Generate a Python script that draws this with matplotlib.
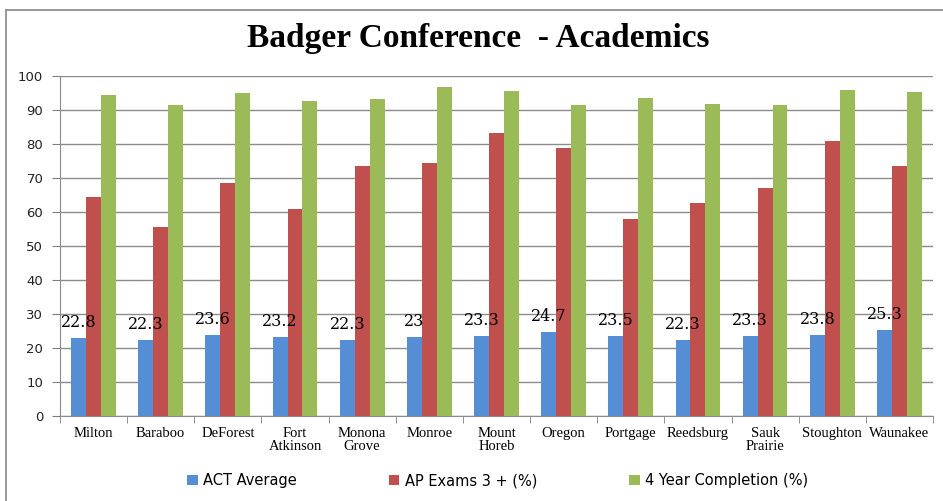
import matplotlib
matplotlib.use("Agg")
import matplotlib.pyplot as plt
from matplotlib.lines import Line2D
import numpy as np

schools = ["Milton", "Baraboo", "DeForest", "Fort\nAtkinson", "Monona\nGrove",
           "Monroe", "Mount\nHoreb", "Oregon", "Portgage", "Reedsburg",
           "Sauk\nPrairie", "Stoughton", "Waunakee"]
act_avg = [22.8, 22.3, 23.6, 23.2, 22.3, 23, 23.3, 24.7, 23.5, 22.3, 23.3, 23.8, 25.3]
ap_exams = [64.3, 55.5, 68.3, 60.7, 73.5, 74.2, 83.0, 78.6, 57.8, 62.5, 67.1, 80.7, 73.5]
completion = [94.4, 91.5, 94.8, 92.6, 93.0, 96.6, 95.5, 91.5, 93.3, 91.8, 91.5, 95.9, 95.2]
act_text = ["22.8", "22.3", "23.6", "23.2", "22.3", "23", "23.3", "24.7", "23.5",
            "22.3", "23.3", "23.8", "25.3"]

blue = "#558ED5"
red = "#C0504D"
green = "#9BBB59"

fig = plt.figure(figsize=(9.43, 5.01), dpi=100)
ax = fig.add_axes([0.0636, 0.1703, 0.9258, 0.6786])

x = np.arange(len(schools))
w = 1 / 4.5
ax.bar(x - w, act_avg, w, color=blue, label="ACT Average", zorder=3)
ax.bar(x, ap_exams, w, color=red, label="AP Exams 3 + (%)", zorder=3)
ax.bar(x + w, completion, w, color=green, label="4 Year Completion (%)", zorder=3)

# data labels on the ACT bars
for xi, v, t in zip(x, act_avg, act_text):
    ax.annotate(t, (xi - w, v), xytext=(0, 8), textcoords="offset points",
                ha="center", va="baseline", fontsize=11.5,
                family="DejaVu Serif", color="black", zorder=4)

ax.set_xlim(-0.5, len(schools) - 0.5)
ax.set_ylim(0, 100)
ax.set_yticks(np.arange(0, 101, 10))
ax.yaxis.grid(True, color="#8c8c8c", lw=1, zorder=0)
ax.tick_params(axis="y", labelsize=9.5, colors="#7f7f7f", labelcolor="#222222",
               length=6, pad=6, direction="out")

ax.set_xticks(x)
ax.set_xticklabels(schools, family="Liberation Serif", fontsize=10.5,
                   linespacing=1.0)
ax.tick_params(axis="x", which="major", length=0, pad=8)
ax.set_xticks(np.arange(-0.5, len(schools), 1), minor=True)
ax.tick_params(axis="x", which="minor", length=5, color="#7f7f7f")

for s in ["top", "right"]:
    ax.spines[s].set_visible(False)
for s in ["left", "bottom"]:
    ax.spines[s].set_color("#8c8c8c")

fig.text(0.507, 0.924, "Badger Conference  - Academics", ha="center", va="center",
         fontsize=24, fontweight="bold", family="Liberation Serif")

fig.legend(loc="center", bbox_to_anchor=(0.528, 0.04), ncol=3, frameon=False,
           fontsize=10.5, handlelength=0.7, handleheight=0.7, handletextpad=0.4,
           columnspacing=6.3)

# chart border
fig.add_artist(Line2D([6 / 943, 1], [1 - 10 / 501, 1 - 10 / 501],
                      transform=fig.transFigure, color="#8a8a8a", lw=1.2))
fig.add_artist(Line2D([6 / 943, 6 / 943], [0, 1 - 10 / 501],
                      transform=fig.transFigure, color="#8a8a8a", lw=1.2))

fig.savefig("out.png", dpi=100)
